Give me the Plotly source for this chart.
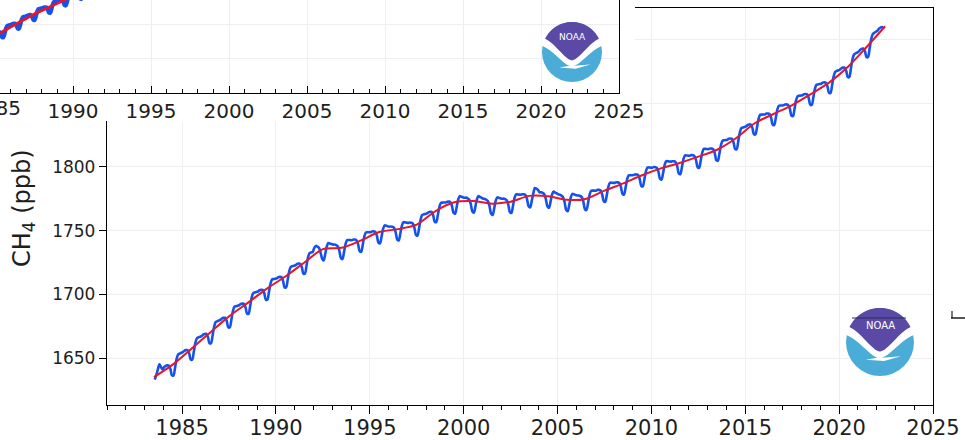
import math
import plotly.graph_objects as go

W, H = 965, 440

# Global monthly mean CH4 (ppb), starting July 1983
first_year, first_month = 1983, 7
ch4_monthly = [
    1633.0, 1636.5, 1641.0, 1645.0, 1643.0, 1641.0,
    1642.8, 1643.8, 1644.2, 1644.0, 1641.5, 1636.4, 1636.3, 1642.4, 1649.4, 1652.9, 1653.5, 1654.1,
    1654.6, 1655.7, 1656.2, 1656.2, 1653.8, 1648.8, 1648.8, 1655.0, 1662.0, 1665.5, 1666.2, 1666.7,
    1667.2, 1668.4, 1668.9, 1668.9, 1666.6, 1661.6, 1661.6, 1667.7, 1674.7, 1678.3, 1678.9, 1679.4,
    1679.9, 1681.0, 1681.5, 1681.6, 1679.2, 1674.2, 1674.1, 1680.1, 1686.9, 1690.3, 1690.7, 1691.1,
    1691.4, 1692.4, 1692.7, 1692.6, 1690.0, 1684.9, 1684.7, 1690.7, 1697.6, 1701.0, 1701.5, 1701.9,
    1702.2, 1703.2, 1703.6, 1703.5, 1701.0, 1695.9, 1695.7, 1701.6, 1708.3, 1711.6, 1712.0, 1712.3,
    1712.5, 1713.4, 1713.7, 1713.5, 1710.8, 1705.6, 1705.4, 1711.4, 1718.3, 1721.6, 1722.1, 1722.5,
    1722.8, 1723.8, 1724.2, 1724.0, 1721.5, 1716.4, 1716.2, 1722.2, 1729.0, 1732.4, 1732.9, 1733.2,
    1736.5, 1738.0, 1737.5, 1736.5, 1733.0, 1728.0, 1726.5, 1731.6, 1737.7, 1740.3, 1739.9, 1739.5,
    1739.0, 1739.1, 1738.7, 1737.8, 1734.4, 1728.5, 1727.7, 1733.2, 1739.7, 1742.6, 1742.6, 1742.6,
    1742.5, 1743.0, 1743.0, 1742.4, 1739.4, 1733.9, 1733.4, 1739.0, 1745.5, 1748.6, 1748.7, 1748.7,
    1748.8, 1749.4, 1749.4, 1749.0, 1746.1, 1740.6, 1740.0, 1745.2, 1751.4, 1754.1, 1753.8, 1753.4,
    1753.1, 1753.3, 1753.0, 1752.2, 1748.9, 1743.1, 1742.3, 1747.7, 1753.9, 1756.7, 1756.5, 1756.3,
    1756.1, 1756.4, 1756.2, 1755.5, 1752.3, 1746.6, 1746.1, 1752.1, 1758.9, 1762.3, 1762.8, 1763.1,
    1763.5, 1764.4, 1764.8, 1764.7, 1762.1, 1757.0, 1756.7, 1762.3, 1768.8, 1771.9, 1772.0, 1772.1,
    1772.1, 1772.7, 1772.8, 1772.4, 1769.5, 1764.0, 1763.3, 1768.4, 1774.5, 1777.1, 1776.6, 1776.2,
    1775.8, 1775.9, 1775.4, 1774.5, 1771.1, 1765.2, 1764.1, 1768.9, 1774.8, 1777.1, 1776.4, 1775.8,
    1775.1, 1774.9, 1774.3, 1773.1, 1769.4, 1763.3, 1762.3, 1767.4, 1773.5, 1776.1, 1775.8, 1775.4,
    1775.0, 1775.1, 1774.8, 1773.9, 1770.5, 1764.6, 1763.9, 1769.3, 1775.7, 1778.5, 1778.4, 1778.3,
    1778.2, 1778.6, 1778.5, 1777.8, 1774.7, 1769.1, 1768.3, 1773.3, 1779.2, 1783.5, 1783.0, 1782.0,
    1780.1, 1780.1, 1779.6, 1778.6, 1775.0, 1769.0, 1767.9, 1772.6, 1778.4, 1780.7, 1779.9, 1779.2,
    1778.5, 1778.2, 1777.5, 1776.3, 1772.5, 1766.3, 1765.2, 1770.3, 1776.3, 1778.9, 1778.5, 1778.0,
    1777.6, 1777.6, 1777.2, 1776.3, 1772.8, 1766.9, 1766.2, 1771.7, 1778.3, 1781.3, 1781.4, 1781.4,
    1781.4, 1782.0, 1782.0, 1781.5, 1778.6, 1773.1, 1772.6, 1778.1, 1784.6, 1787.6, 1787.6, 1787.5,
    1787.5, 1788.0, 1787.9, 1787.4, 1784.4, 1778.9, 1778.4, 1783.9, 1790.4, 1793.4, 1793.5, 1793.5,
    1793.6, 1794.1, 1794.1, 1793.7, 1790.7, 1785.2, 1784.7, 1790.2, 1796.6, 1799.6, 1799.6, 1799.5,
    1799.4, 1799.9, 1799.8, 1799.3, 1796.3, 1790.7, 1790.1, 1795.4, 1801.8, 1804.6, 1804.5, 1804.3,
    1804.2, 1804.5, 1804.4, 1803.7, 1800.6, 1794.9, 1794.3, 1799.8, 1806.2, 1809.1, 1809.0, 1808.9,
    1808.8, 1809.3, 1809.2, 1808.6, 1805.5, 1799.9, 1799.3, 1804.8, 1811.2, 1814.2, 1814.2, 1814.1,
    1814.0, 1814.5, 1814.4, 1813.9, 1810.9, 1805.3, 1804.9, 1810.7, 1817.4, 1820.6, 1820.9, 1821.1,
    1821.4, 1822.2, 1822.4, 1822.1, 1819.4, 1814.1, 1814.0, 1820.0, 1827.0, 1830.4, 1831.0, 1831.4,
    1831.9, 1832.9, 1833.4, 1833.3, 1830.9, 1825.8, 1825.6, 1831.2, 1837.8, 1840.9, 1841.1, 1841.2,
    1841.2, 1841.9, 1842.0, 1841.6, 1838.7, 1833.3, 1832.9, 1838.5, 1845.1, 1848.1, 1848.3, 1848.3,
    1848.4, 1849.0, 1849.1, 1848.6, 1845.8, 1840.3, 1839.9, 1845.7, 1852.4, 1855.6, 1855.9, 1856.1,
    1856.3, 1857.1, 1857.3, 1857.0, 1854.3, 1849.0, 1848.7, 1854.5, 1861.3, 1864.5, 1864.8, 1865.1,
    1865.3, 1866.2, 1866.4, 1866.1, 1863.5, 1858.2, 1858.1, 1864.2, 1871.2, 1874.7, 1875.4, 1875.9,
    1876.4, 1877.5, 1878.0, 1878.0, 1875.6, 1870.6, 1870.7, 1877.1, 1884.4, 1888.2, 1889.1, 1889.8,
    1890.6, 1892.0, 1892.7, 1893.0, 1890.9, 1886.2, 1886.5, 1893.0, 1900.4, 1904.3, 1905.3, 1906.2,
    1907.0, 1908.6, 1909.4, 1909.8, 1908.5,
]

# Deseasonalized trend (ppb), mid-year points
trend_years = [1983.5, 1984.5, 1985.5, 1986.5, 1987.5, 1988.5, 1989.5, 1990.5, 1991.5, 1992.5,
               1993.5, 1994.5, 1995.5, 1996.5, 1997.5, 1998.5, 1999.5, 2000.5, 2001.5, 2002.5,
               2003.5, 2004.5, 2005.5, 2006.5, 2007.5, 2008.5, 2009.5, 2010.5, 2011.5, 2012.5,
               2013.5, 2014.5, 2015.5, 2016.5, 2017.5, 2018.5, 2019.5, 2020.5, 2021.5, 2022.45]
trend_ch4 = [1635.0, 1644.8, 1657.3, 1670.1, 1682.7, 1693.3, 1704.3, 1714.0, 1724.8, 1735.5,
             1736.5, 1742.1, 1748.9, 1751.2, 1754.7, 1765.4, 1772.3, 1773.2, 1771.2, 1772.7,
             1777.3, 1777.0, 1774.2, 1774.9, 1781.4, 1787.1, 1793.5, 1798.9, 1803.1, 1808.1,
             1813.5, 1822.5, 1834.3, 1841.6, 1848.6, 1857.3, 1866.6, 1879.1, 1894.8, 1910.5]

main_years = [1985, 1990, 1995, 2000, 2005, 2010, 2015, 2020, 2025]

t_monthly = [first_year + (first_month - 1 + i + 0.5) / 12 for i in range(len(ch4_monthly))]

BLUE = "#1452ee"
RED = "#e6152c"
INK = "#1e1e1e"
GRID = "#eeeeee"
FONT = "DejaVu Sans"
LOGO_BLUE = "#4badd7"
LOGO_PURPLE = "#5a4aa6"


def fx(p):
    return p / W


def fy(p):
    return 1 - p / H


# pixel geometry of the panels
MAIN_L, MAIN_R, MAIN_T, MAIN_B = 107, 933, 7.5, 405
INSET_R, INSET_B = 619, 93
COVER_R, COVER_B = 635, 121
main_xrange = [1981.0, 2025.0]
main_yrange = [1613.1, 1925.2]
inset_xrange = [1985.32, 2025.0]
inset_yrange = [1566.8, 1703.5]

fig = go.Figure()
for xa, ya, wb, wr in (("x", "y", 2.6, 2.0), ("x3", "y3", 4.2, 2.8)):
    fig.add_trace(go.Scatter(x=t_monthly, y=ch4_monthly, mode="lines",
                             line=dict(color=BLUE, width=wb, shape="spline", smoothing=0.8),
                             xaxis=xa, yaxis=ya, showlegend=False, hoverinfo="skip"))
    fig.add_trace(go.Scatter(x=trend_years, y=trend_ch4, mode="lines",
                             line=dict(color=RED, width=wr, shape="spline", smoothing=0.8),
                             xaxis=xa, yaxis=ya, showlegend=False, hoverinfo="skip"))
# blank panel that masks the upper-left corner behind the inset
fig.add_trace(go.Scatter(x=[None], y=[None], xaxis="x2", yaxis="y2",
                         showlegend=False, hoverinfo="skip"))


def noaa_logo(cx, cy, r, size):
    def P(u, v):
        return f"{(cx + u * r) / W:.5f},{1 - (cy + v * r) / H:.5f}"

    shapes = [dict(type="circle", xref="paper", yref="paper",
                   x0=(cx - r) / W, x1=(cx + r) / W, y0=1 - (cy + r) / H, y1=1 - (cy - r) / H,
                   fillcolor=LOGO_BLUE, line_width=0, layer="above")]
    white = ("M" + P(-1.02, -0.6) + " L" + P(1.02, -0.6) + " L" + P(1.02, -0.22)
             + " C" + P(0.6, -0.05) + " " + P(0.3, 0.40) + " " + P(0.06, 0.46)
             + " L" + P(0.62, 0.42) + " L" + P(0.12, 0.56) + " L" + P(-0.42, 0.52)
             + " L" + P(-0.08, 0.46)
             + " C" + P(-0.3, 0.40) + " " + P(-0.6, -0.05) + " " + P(-1.02, -0.22) + " Z")
    shapes.append(dict(type="path", xref="paper", yref="paper", path=white,
                       fillcolor="white", line_width=0, layer="above"))
    arc = []
    for k in range(0, 33):
        a = math.radians(154 - k * 4)
        arc.append(P(math.cos(a), -math.sin(a)))
    purple = ("M" + arc[0] + "".join(" L" + p for p in arc[1:])
              + " C" + P(0.55, -0.28) + " " + P(0.22, 0.28) + " " + P(0.0, 0.28)
              + " C" + P(-0.22, 0.28) + " " + P(-0.55, -0.28) + " " + arc[0] + " Z")
    shapes.append(dict(type="path", xref="paper", yref="paper", path=purple,
                       fillcolor=LOGO_PURPLE, line_width=0, layer="above"))
    ann = dict(text="NOAA", x=fx(cx), y=fy(cy - 0.5 * r), xref="paper", yref="paper",
               showarrow=False, xanchor="center", yanchor="middle",
               font=dict(family=FONT, size=size, color="white"))
    return shapes, ann


shapes = []
annotations = []
for cx, cy, r, s in ((880, 342, 34, 10), (572, 52, 30, 9)):
    sh, an = noaa_logo(cx, cy, r, s)
    shapes += sh
    annotations.append(an)

# stray rule marks
shapes.append(dict(type="line", xref="paper", yref="paper", x0=fx(852), x1=fx(906),
                   y0=fy(318), y1=fy(318), line=dict(color="#2b2b55", width=1), layer="above"))
shapes.append(dict(type="line", xref="paper", yref="paper", x0=fx(951), x1=fx(965),
                   y0=fy(318), y1=fy(318), line=dict(color=INK, width=1.5), layer="above"))
shapes.append(dict(type="line", xref="paper", yref="paper", x0=fx(952), x1=fx(952),
                   y0=fy(318), y1=fy(311), line=dict(color=INK, width=1.2), layer="above"))

annotations.append(dict(text="CH<sub>4</sub> (ppb)", x=fx(24), y=fy(208), xref="paper", yref="paper",
                        textangle=-90, showarrow=False, xanchor="center", yanchor="middle",
                        font=dict(family=FONT, size=24, color=INK)))

# partly visible first tick label of the inset axis
inset_span = inset_xrange[1] - inset_xrange[0]
annotations.append(dict(text=str(main_years[0]),
                        x=fx(INSET_R) * (main_years[0] - inset_xrange[0]) / inset_span,
                        y=fy(108), xref="paper", yref="paper", showarrow=False,
                        xanchor="center", yanchor="middle",
                        font=dict(family=FONT, size=20, color=INK)))

axis_common = dict(showline=True, linecolor="black", linewidth=1.3, zeroline=False,
                   showgrid=True, gridcolor=GRID, gridwidth=1, fixedrange=True,
                   automargin=False)

fig.update_layout(
    width=W, height=H, margin=dict(l=0, r=0, t=0, b=0, pad=0), autosize=False,
    paper_bgcolor="white", plot_bgcolor="white",
    font=dict(family=FONT, color=INK),
    xaxis=dict(domain=[fx(MAIN_L), fx(MAIN_R)], range=main_xrange, anchor="y",
               tickmode="array", tickvals=main_years, ticks="outside", ticklen=8,
               tickwidth=1.2, tickcolor="black", mirror=True, ticklabelstandoff=-4,
               minor=dict(dtick=1, tick0=1981, ticks="outside", ticklen=4, tickwidth=1,
                          tickcolor="black", showgrid=False),
               tickfont=dict(size=21, family=FONT, color=INK), **axis_common),
    yaxis=dict(domain=[fy(MAIN_B), fy(MAIN_T)], range=main_yrange, anchor="x",
               dtick=50, tick0=1650, ticks="outside", ticklen=7, tickwidth=1.2,
               tickcolor="black", mirror=True,
               tickfont=dict(size=17, family=FONT, color=INK), **axis_common),
    xaxis2=dict(domain=[0, fx(COVER_R)], range=[0, 1], anchor="y2", visible=False,
                fixedrange=True, automargin=False),
    yaxis2=dict(domain=[fy(COVER_B), 1], range=[0, 1], anchor="x2", visible=False,
                fixedrange=True, automargin=False),
    xaxis3=dict(domain=[0, fx(INSET_R)], range=inset_xrange, anchor="y3",
                tickmode="array", tickvals=main_years, ticks="inside", ticklen=7,
                tickwidth=1.2, tickcolor="black",
                minor=dict(dtick=1, tick0=1981, ticks="inside", ticklen=4, tickwidth=1,
                           tickcolor="black", showgrid=False),
                tickfont=dict(size=20, family=FONT, color=INK), **axis_common),
    yaxis3=dict(domain=[fy(INSET_B), 1], range=inset_yrange, anchor="x3", side="right",
                showticklabels=False, ticks="", dtick=50, tick0=1616.8, **axis_common),
    shapes=shapes,
    annotations=annotations,
)

fig.write_html("out.html")
